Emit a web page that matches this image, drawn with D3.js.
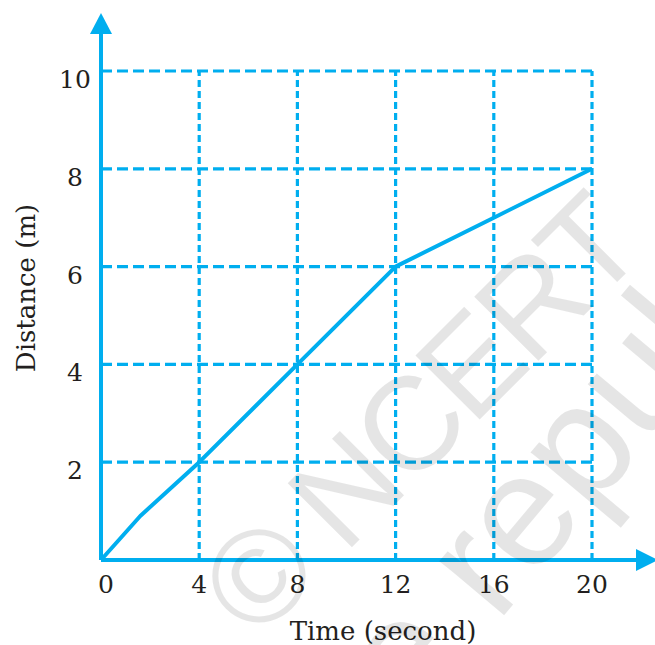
<!DOCTYPE html>
<html><head><meta charset="utf-8">
<script src="https://cdn.jsdelivr.net/npm/d3@7"></script>
<style>html,body{margin:0;padding:0;background:#fff;}svg{display:block;}</style>
</head><body>
<script>
const timeValues = [0, 1.6, 4, 8, 12, 16, 20];
const distanceValues = [0, 0.9, 2, 4, 6, 7, 8];
const xTicks = [0, 4, 8, 12, 16, 20];
const yTicks = [2, 4, 6, 8, 10];
const xTitle = "Time (second)";
const yTitle = "Distance (m)";
const watermark1 = "© NCERT";
const watermark2 = "not to be republished";

const W = 655, H = 645;
const blue = "#00aeef", ink = "#231f20";
const serif = "'DejaVu Serif', serif";
const svg = d3.select("body").append("svg").attr("width", W).attr("height", H);

const x = d3.scaleLinear().domain([0, 20]).range([101, 592]);
const y = d3.scaleLinear().domain([0, 10]).range([560, 71]);

// grid
svg.append("g").selectAll("line").data(yTicks).join("line")
  .attr("x1", x(0)).attr("x2", x(20)).attr("y1", d => y(d)).attr("y2", d => y(d))
  .attr("stroke", blue).attr("stroke-width", 3.2).attr("stroke-dasharray", "11,5");
svg.append("g").selectAll("line").data(xTicks.filter(d => d > 0)).join("line")
  .attr("x1", d => x(d)).attr("x2", d => x(d)).attr("y1", y(0)).attr("y2", y(10))
  .attr("stroke", blue).attr("stroke-width", 3.2).attr("stroke-dasharray", "7,4");

// axes
svg.append("line").attr("x1", x(0)).attr("x2", 640).attr("y1", y(0)).attr("y2", y(0))
  .attr("stroke", blue).attr("stroke-width", 4);
svg.append("line").attr("x1", x(0)).attr("x2", x(0)).attr("y1", y(0)).attr("y2", 30)
  .attr("stroke", blue).attr("stroke-width", 4);
svg.append("path").attr("d", `M${x(0)},13 L${x(0)-11},34 L${x(0)+11},34 Z`).attr("fill", blue);
svg.append("path").attr("d", `M658,${y(0)} L636,${y(0)-11} L636,${y(0)+11} Z`).attr("fill", blue);

// data line
const data = timeValues.map((t, i) => [t, distanceValues[i]]);
svg.append("path").datum(data)
  .attr("d", d3.line().x(d => x(d[0])).y(d => y(d[1])))
  .attr("fill", "none").attr("stroke", blue).attr("stroke-width", 4).attr("stroke-linejoin", "round");

// tick labels
svg.append("g").selectAll("text").data(yTicks).join("text")
  .attr("x", 75).attr("y", d => y(d) + 17).attr("text-anchor", "middle")
  .attr("font-family", serif).attr("font-size", 25).attr("fill", ink).text(d => d);
svg.append("g").selectAll("text").data(xTicks).join("text")
  .attr("x", d => x(d) + (d === 0 ? 5 : 0)).attr("y", 593).attr("text-anchor", "middle")
  .attr("font-family", serif).attr("font-size", 25).attr("fill", ink).text(d => d);

// titles
svg.append("text").attr("x", 383).attr("y", 640).attr("text-anchor", "middle")
  .attr("font-family", serif).attr("font-size", 26).attr("fill", ink).text(xTitle);
svg.append("text").attr("transform", "translate(35,288) rotate(-90)").attr("text-anchor", "middle")
  .attr("font-family", serif).attr("font-size", 26).attr("fill", ink).text(yTitle);

// watermark
const wmFont = "'Liberation Sans', Arial, sans-serif";
const wm = svg.append("g").attr("fill", "#000").attr("fill-opacity", 0.1)
  .attr("font-family", wmFont);
function measure(s, size, ls) {
  const t = wm.append("text").attr("font-size", size).attr("letter-spacing", ls).attr("opacity", 0).text(s);
  const l = t.node().getComputedTextLength(); t.remove(); return l;
}
// place a rotated line so that a given glyph's centre lands on a target point
function placeLine(str, size, angDeg, ls, prefix, ch, up, target) {
  const a = angDeg * Math.PI / 180;
  const u = [Math.cos(a), Math.sin(a)], n = [-Math.sin(a), Math.cos(a)];
  const along = measure(prefix, size, ls) + (measure(ch, size, 0)) / 2;
  const b = [target[0] + n[0] * up * size, target[1] + n[1] * up * size];
  const s = [b[0] - u[0] * along, b[1] - u[1] * along];
  wm.append("text").attr("font-size", size).attr("letter-spacing", ls)
    .attr("transform", `translate(${s[0]},${s[1]}) rotate(${angDeg})`).text(str);
}
placeLine(watermark1, 132, -45, -5, "© ", "N", 0.36, [322, 510]);
placeLine(watermark2, 160, -50, 0, "not to be r", "e", 0.26, [528, 522]);
</script>
</body></html>
